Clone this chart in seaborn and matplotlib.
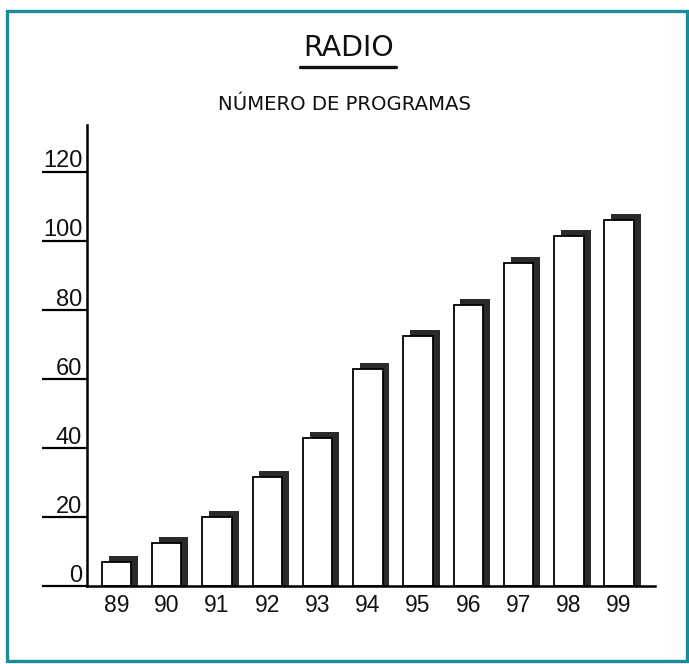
import matplotlib
matplotlib.use("Agg")
import matplotlib.pyplot as plt
import seaborn as sns
import numpy as np
import pandas as pd
from matplotlib.lines import Line2D
from matplotlib.patches import Rectangle

# ---- data ----
years = ["89", "90", "91", "92", "93", "94", "95", "96", "97", "98", "99"]
programas = [7, 12.5, 20, 31.5, 43, 63, 72.5, 81.5, 93.5, 101.5, 106]
y_ticks = [0, 20, 40, 60, 80, 100, 120]
y_tick_labels = ["0", "20", "40", "60", "80", "100", "120"]
title = "RADIO"
subtitle = "NÚMERO DE PROGRAMAS"

df = pd.DataFrame({"year": years, "value": programas})

sns.set_style("white")
plt.rcParams["font.family"] = ["Liberation Sans", "DejaVu Sans"]

W, H = 689, 664
dpi = 100
fig = plt.figure(figsize=(W / dpi, H / dpi), dpi=dpi)
fig.patch.set_facecolor("white")

# axes placement in pixels
ax_left, ax_right, ax_bottom_px, ax_top_px = 87, 655, 586, 125
ax = fig.add_axes([ax_left / W, 1 - ax_bottom_px / H,
                   (ax_right - ax_left) / W, (ax_bottom_px - ax_top_px) / H])
ax.set_facecolor("white")

bar_w = 0.587
shadow_dx = 0.139   # horizontal offset of the 3D shadow (style)
shadow_dy = 1.74    # vertical offset of the 3D shadow (style)

# shadow bars
df_sh = df.assign(value=df["value"] + shadow_dy)
sns.barplot(data=df_sh, x="year", y="value", color="#2a2a2a", width=bar_w,
            saturation=1, edgecolor="none", linewidth=0, ax=ax)
n_sh = len(ax.patches)
for p in ax.patches[:n_sh]:
    p.set_x(p.get_x() + shadow_dx)
    p.set_zorder(2)

# front (white) bars
sns.barplot(data=df, x="year", y="value", color="white", width=bar_w,
            saturation=1, edgecolor="black", linewidth=1.3, ax=ax)
for p in ax.patches[n_sh:]:
    p.set_zorder(3)

ax.set_xlim(-0.587, 10.716)
ax.set_ylim(0, 133.6)
ax.set_xlabel("")
ax.set_ylabel("")

for s in ["top", "right"]:
    ax.spines[s].set_visible(False)
for s in ["left", "bottom"]:
    ax.spines[s].set_linewidth(1.8)
    ax.spines[s].set_color("black")
    ax.spines[s].set_zorder(4)

ax.set_yticks(y_ticks)
ax.set_yticklabels([])
ax.tick_params(axis="y", left=True, direction="out", length=32.5, width=1.6,
               color="black")
ax.tick_params(axis="x", bottom=False, length=0, pad=5.5, labelsize=16.5,
               labelcolor="#111111")

for v, lab in zip(y_ticks, y_tick_labels):
    ax.annotate(lab, xy=(0, v), xycoords=("axes fraction", "data"),
                xytext=(-3.5, 3.2), textcoords="offset points",
                ha="right", va="baseline", fontsize=17, color="#111111")

# titles
fig.text(348.5 / W, 1 - 48 / H, title, ha="center", va="center",
         fontsize=20.5, fontfamily=["DejaVu Sans"], color="#111111")
fig.add_artist(Line2D([300 / W, 396 / W], [1 - 67 / H, 1 - 67 / H],
                      transform=fig.transFigure, color="#111111", lw=2.4))
fig.text(344 / W, 1 - 105 / H, subtitle, ha="center", va="center",
         fontsize=14.2, fontfamily=["DejaVu Sans"], color="#111111")

# teal frame
fig.add_artist(Rectangle((7 / W, 1 - 661 / H), (687 - 7) / W, (661 - 11) / H,
                         transform=fig.transFigure, fill=False,
                         edgecolor="#1b8b97", lw=2.4))

fig.savefig("out.png", dpi=dpi)
